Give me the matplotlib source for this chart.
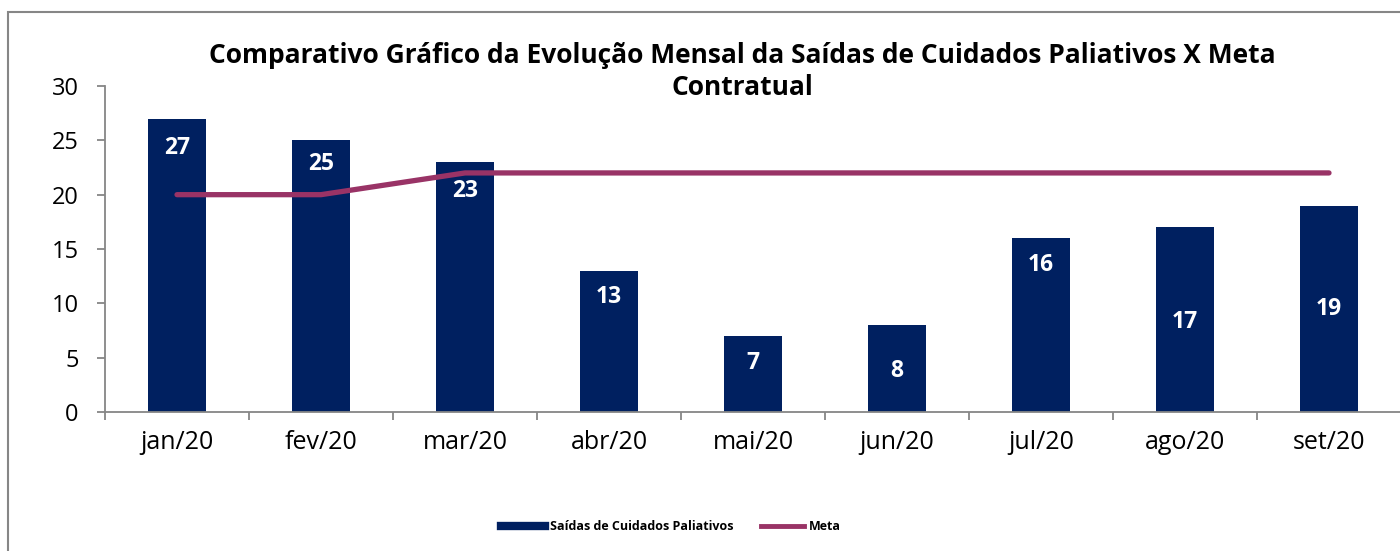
import matplotlib
matplotlib.use("Agg")
import matplotlib.pyplot as plt
from matplotlib.lines import Line2D
from matplotlib.patches import Rectangle
import numpy as np

categories = ["jan/20", "fev/20", "mar/20", "abr/20", "mai/20", "jun/20", "jul/20", "ago/20", "set/20"]
saidas = [27, 25, 23, 13, 7, 8, 16, 17, 19]
meta = [20, 20, 22, 22, 22, 22, 22, 22, 22]
yticks = [0, 5, 10, 15, 20, 25, 30]
# vertical placement of the value labels inside the bars (as in the original chart)
label_y = [24.3, 22.8, 20.3, 10.6, 4.5, 3.8, 13.5, 8.3, 9.5]

bar_color = "#002060"
line_color = "#993366"
spine_color = "#868686"

plt.rcParams['font.family'] = ['Open Sans', 'DejaVu Sans']

fig = plt.figure(figsize=(14, 5.51), dpi=100)
ax = fig.add_axes([105/1400, 1-412/551, (1401-105)/1400, (412-86)/551])

x = np.arange(len(categories))
ax.bar(x, saidas, width=0.4, color=bar_color, zorder=2)
ax.plot(x, meta, color=line_color, lw=3.8, solid_capstyle='round', zorder=3)

for xi, v, ly in zip(x, saidas, label_y):
    ax.text(xi, ly, str(v), ha='center', va='center', color='white',
            fontsize=16.5, fontweight='bold', zorder=4)

ax.set_xlim(-0.5, len(categories) - 0.5)
ax.set_ylim(0, 30)
ax.set_yticks(yticks)
ax.set_yticklabels([str(t) for t in yticks], fontsize=17)
ax.set_xticks(x)
ax.set_xticklabels(categories, fontsize=18)
ax.set_xticks(np.arange(-0.5, len(categories), 1), minor=True)
ax.tick_params(axis='x', which='major', length=0, pad=13)
ax.tick_params(axis='x', which='minor', length=6, color=spine_color, direction='out', width=1.3)
ax.tick_params(axis='y', length=6, color=spine_color, width=1.3, pad=13)
for s in ['top', 'right']:
    ax.spines[s].set_visible(False)
for s in ['left', 'bottom']:
    ax.spines[s].set_color(spine_color)
    ax.spines[s].set_linewidth(1.3)

fig.text(742/1400, 1-71.5/551, "Comparativo Gráfico da Evolução Mensal da Saídas de Cuidados Paliativos X Meta\nContratual",
         ha='center', va='center', fontsize=19, fontweight='bold', linespacing=1.28)

frame = Rectangle((8/1400, -0.05), 1.1, 1-12/551 + 0.05, transform=fig.transFigure,
                  fill=False, edgecolor=spine_color, linewidth=1.5)
fig.patches.append(frame)

handles = [Line2D([0], [0], color=bar_color, lw=6),
           Line2D([0], [0], color=line_color, lw=3.5)]
fig.legend(handles, ["Saídas de Cuidados Paliativos", "Meta"], loc='center',
           bbox_to_anchor=(671/1400, 1-527/551), ncol=2, frameon=False,
           prop={'size': 9, 'weight': 'bold'}, handlelength=3.5, handletextpad=0.4, columnspacing=2.2)

fig.savefig("out.png", dpi=100)
